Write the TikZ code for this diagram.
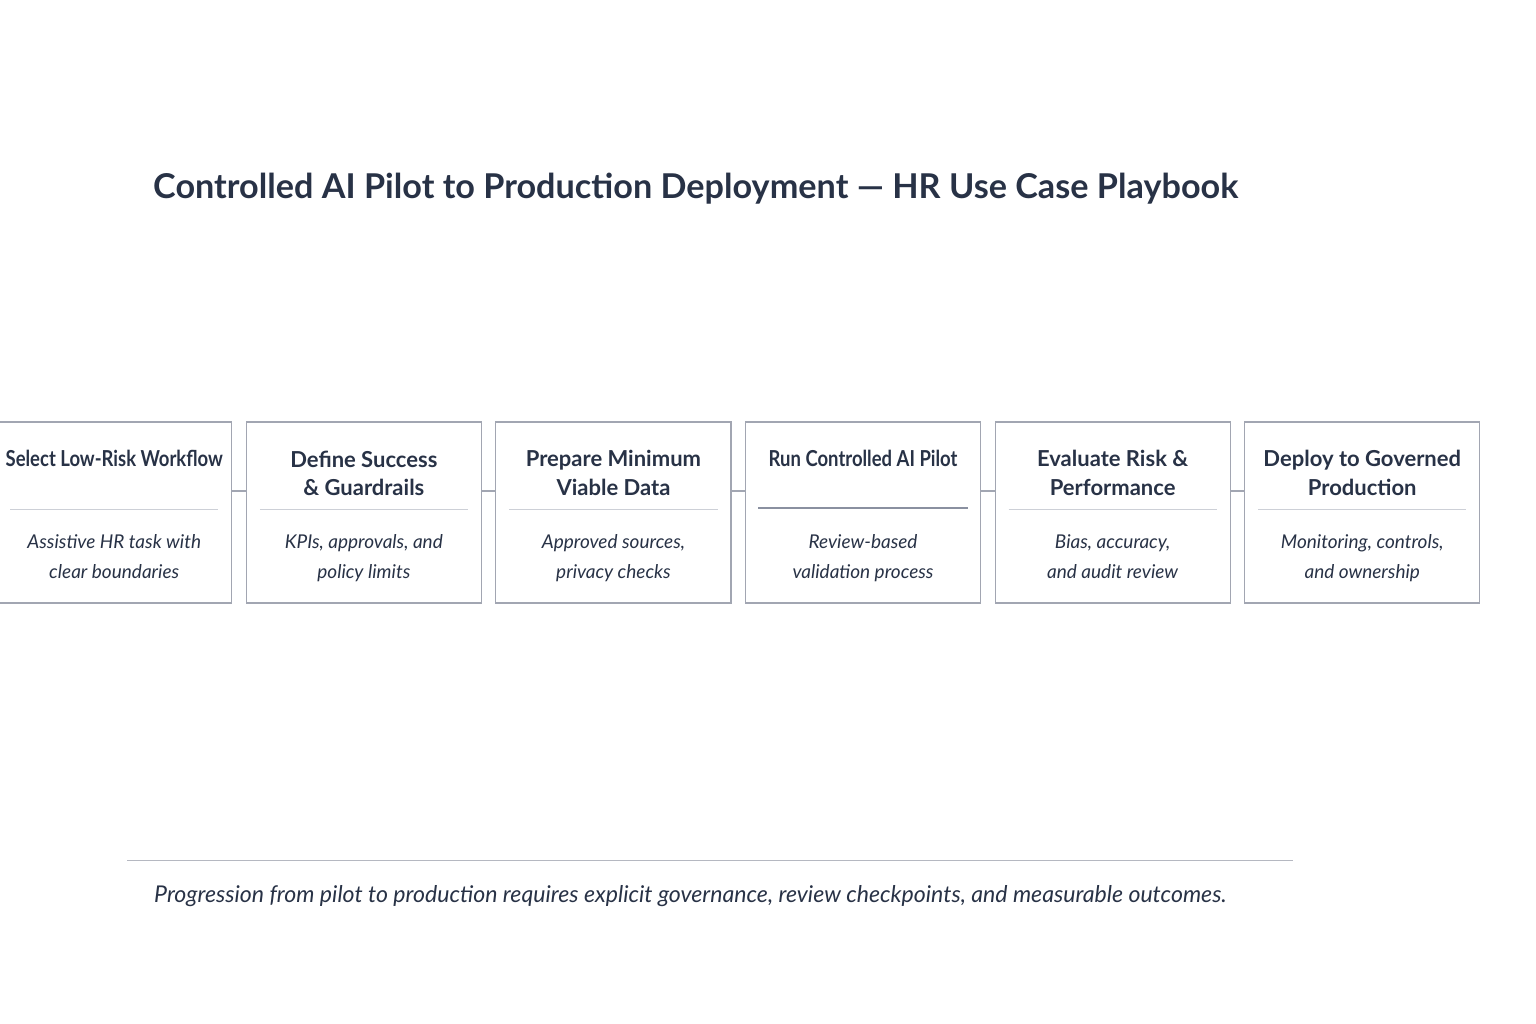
\documentclass[tikz,border=0pt]{standalone}
\usepackage{fontspec}
\setmainfont{Lato}
\newfontfamily\headfont{Lato}
\newfontfamily\narrowfont{Lato}[FakeStretch = 0.84]
\usetikzlibrary{matrix, positioning}

\definecolor{ink}{HTML}{283246}
\definecolor{boxline}{HTML}{A2A6B2}
\definecolor{divline}{HTML}{CDD0D7}
\definecolor{divdark}{HTML}{8A90A0}

\tikzset{
  stepbox/.style = {draw = boxline, line width = 1.1pt, fill = white,
    minimum width = 235pt, minimum height = 181pt, inner sep = 0pt},
  head/.style = {font = \headfont\bfseries\fontsize{22}{28.5}\selectfont,
    text = ink, align = center, inner sep = 0pt},
  narrowhead/.style = {head, font = \narrowfont\bfseries\fontsize{22}{28.5}\selectfont},
  sub/.style = {font = \itshape\fontsize{19}{30}\selectfont,
    text = ink, align = center, inner sep = 0pt},
  link/.style = {draw = boxline, line width = 1.1pt},
  divider/.style = {draw = divline, line width = 1pt}
}

\begin{document}
\begin{tikzpicture}[x = 1pt, y = -1pt]
\useasboundingbox (0,0) rectangle (1536,1024);

\node [anchor = base west, text = ink, inner sep = 0pt,
  font = \headfont\bfseries\fontsize{34.2}{40}\selectfont] (title) at (153,199)
  {Controlled AI Pilot to Production Deployment — HR Use Case Playbook};

\matrix (m) [matrix of nodes, nodes in empty cells, column sep = 13.5pt,
  nodes = {stepbox}] at (738.25,512.5) {
 & & & & & \\
};

\draw [link] ([yshift = 21.5pt]m-1-1.east) -- ([yshift = 21.5pt]m-1-2.west);
\draw [link] ([yshift = 21.5pt]m-1-2.east) -- ([yshift = 21.5pt]m-1-3.west);
\draw [link] ([yshift = 21.5pt]m-1-3.east) -- ([yshift = 21.5pt]m-1-4.west);
\draw [link] ([yshift = 21.5pt]m-1-4.east) -- ([yshift = 21.5pt]m-1-5.west);
\draw [link] ([yshift = 21.5pt]m-1-5.east) -- ([yshift = 21.5pt]m-1-6.west);

\node [narrowhead, below = 29pt of m-1-1.north] (h1) {Select Low-Risk Workflow};
\node [head, below = 29pt of m-1-2.north] (h2) {Define Success\\ \& Guardrails};
\node [head, below = 29pt of m-1-3.north] (h3) {Prepare Minimum\\ Viable Data};
\node [narrowhead, below = 29pt of m-1-4.north] (h4) {Run Controlled AI Pilot};
\node [head, below = 29pt of m-1-5.north] (h5) {Evaluate Risk \&\\ Performance};
\node [head, below = 29pt of m-1-6.north] (h6) {Deploy to Governed\\ Production};

\draw [divider] ([xshift = 14pt, yshift = 3.5pt]m-1-1.west) -- ([xshift = -14pt, yshift = 3.5pt]m-1-1.east);
\draw [divider] ([xshift = 14pt, yshift = 3.5pt]m-1-2.west) -- ([xshift = -14pt, yshift = 3.5pt]m-1-2.east);
\draw [divider] ([xshift = 14pt, yshift = 3.5pt]m-1-3.west) -- ([xshift = -14pt, yshift = 3.5pt]m-1-3.east);
\draw [divider, draw = divdark, line width = 1.3pt] ([xshift = 13pt, yshift = 4.5pt]m-1-4.west) -- ([xshift = -13pt, yshift = 4.5pt]m-1-4.east);
\draw [divider] ([xshift = 14pt, yshift = 3.5pt]m-1-5.west) -- ([xshift = -14pt, yshift = 3.5pt]m-1-5.east);
\draw [divider] ([xshift = 14pt, yshift = 3.5pt]m-1-6.west) -- ([xshift = -14pt, yshift = 3.5pt]m-1-6.east);

\node [sub, below = 113pt of m-1-1.north] (s1) {Assistive HR task with\\ clear boundaries};
\node [sub, below = 113pt of m-1-2.north] (s2) {KPIs, approvals, and\\ policy limits};
\node [sub, below = 113pt of m-1-3.north] (s3) {Approved sources,\\ privacy checks};
\node [sub, below = 113pt of m-1-4.north] (s4) {Review-based\\ validation process};
\node [sub, below = 113pt of m-1-5.north] (s5) {Bias, accuracy,\\ and audit review};
\node [sub, below = 113pt of m-1-6.north] (s6) {Monitoring, controls,\\ and ownership};

\coordinate (rule west) at (127,860.5);
\coordinate (rule east) at (1293,860.5);
\draw [draw = boxline!80, line width = 1.2pt] (rule west) -- (rule east);

\node [anchor = base west, text = ink, inner sep = 0pt,
  font = \itshape\fontsize{23.1}{28}\selectfont] (note) at (154,902)
  {Progression from pilot to production requires explicit governance, review checkpoints, and measurable outcomes.};
\end{tikzpicture}
\end{document}
